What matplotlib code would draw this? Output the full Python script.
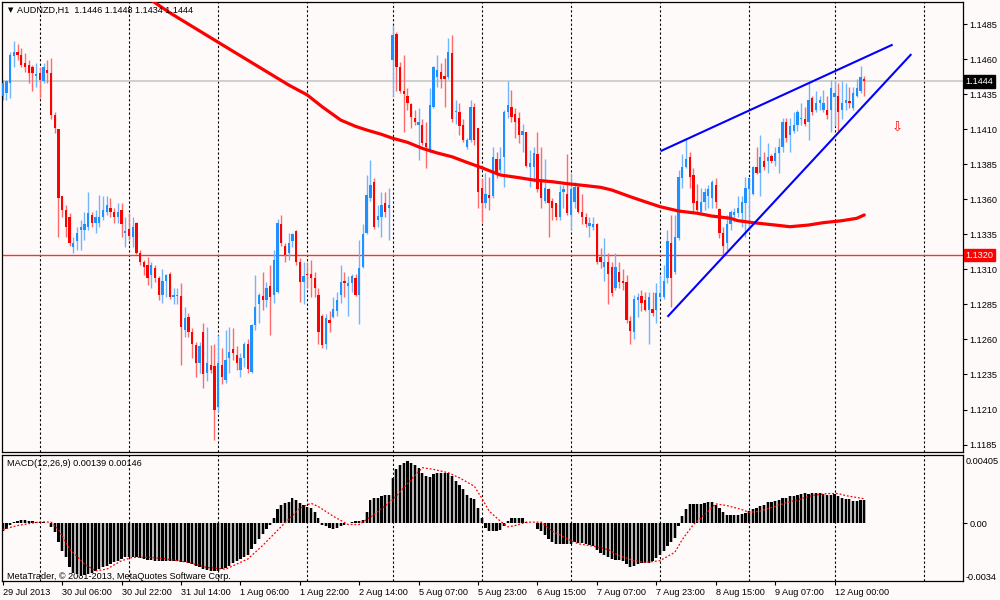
import matplotlib
matplotlib.use("Agg")
import matplotlib.pyplot as plt
import matplotlib.transforms as mtransforms
import numpy as np

BG = '#FFFAFA'
BULL = '#1E90FF'
BEAR = '#FF0000'
BULL_WICK = '#6FB6FF'
BEAR_WICK = '#FF6A6A'

# hourly AUDNZD candles, bar 0 = 29 Jul 2013 14:00
opens = [
    1.1434, 1.1436, 1.1443, 1.1462, 1.1465, 1.1463, 1.1457, 1.1456, 1.1454, 1.1448,
    1.1450, 1.1444, 1.1452, 1.1450, 1.1420, 1.1410, 1.1362, 1.1352, 1.1347, 1.1326,
    1.1330, 1.1338, 1.1338, 1.1340, 1.1349, 1.1343, 1.1343, 1.1347, 1.1351, 1.1354,
    1.1351, 1.1347, 1.1352, 1.1336, 1.1339, 1.1333, 1.1343, 1.1322, 1.1315, 1.1313,
    1.1306, 1.1311, 1.1304, 1.1292, 1.1302, 1.1307, 1.1290, 1.1291, 1.1291, 1.1267,
    1.1276, 1.1265, 1.1256, 1.1243, 1.1265, 1.1236, 1.1242, 1.1241, 1.1212, 1.1242,
    1.1231, 1.1247, 1.1253, 1.1249, 1.1238, 1.1247, 1.1257, 1.1237, 1.1270, 1.1285,
    1.1291, 1.1288, 1.1298, 1.1292, 1.1294, 1.1342, 1.1327, 1.1322, 1.1330, 1.1337,
    1.1315, 1.1301, 1.1307, 1.1307, 1.1304, 1.1292, 1.1277, 1.1257, 1.1274, 1.1276,
    1.1280, 1.1292, 1.1302, 1.1298, 1.1300, 1.1304, 1.1292, 1.1312, 1.1336, 1.1361,
    1.1372, 1.1345, 1.1347, 1.1357, 1.1354, 1.1459, 1.1478, 1.1454, 1.1437, 1.1434,
    1.1428, 1.1418, 1.1413, 1.1413, 1.1400, 1.1394, 1.1426, 1.1447, 1.1451, 1.1448,
    1.1447, 1.1464, 1.1422, 1.1422, 1.1413, 1.1397, 1.1402, 1.1426, 1.1411, 1.1368,
    1.1357, 1.1363, 1.1362, 1.1389, 1.1381, 1.1390, 1.1422, 1.1426, 1.1421, 1.1418,
    1.1406, 1.1408, 1.1383, 1.1383, 1.1392, 1.1374, 1.1359, 1.1367, 1.1359, 1.1357,
    1.1347, 1.1365, 1.1364, 1.1349, 1.1358, 1.1369, 1.1351, 1.1347, 1.1341, 1.1340,
    1.1342, 1.1319, 1.1312, 1.1315, 1.1312, 1.1297, 1.1308, 1.1302, 1.1301, 1.1273,
    1.1265, 1.1288, 1.1291, 1.1288, 1.1281, 1.1282, 1.1281, 1.1290, 1.1290, 1.1304,
    1.1329, 1.1308, 1.1332, 1.1375, 1.1383, 1.1390, 1.1377, 1.1359, 1.1351, 1.1358,
    1.1362, 1.1361, 1.1370, 1.1353, 1.1336, 1.1329, 1.1342, 1.1349, 1.1350, 1.1350,
    1.1357, 1.1367, 1.1364, 1.1383, 1.1379, 1.1387, 1.1387, 1.1391, 1.1387, 1.1393,
    1.1397, 1.1415, 1.1406, 1.1409, 1.1413, 1.1417, 1.1417, 1.1415, 1.1432, 1.1424,
    1.1429, 1.1424, 1.1424, 1.1424, 1.1433, 1.1434, 1.1424, 1.1429, 1.1430, 1.1425,
    1.1434, 1.1437, 1.1446]
highs = [
    1.1445, 1.1445, 1.1465, 1.1473, 1.1471, 1.1468, 1.1464, 1.1459, 1.1456, 1.1457,
    1.1454, 1.1457, 1.1459, 1.1461, 1.1422, 1.1410, 1.1362, 1.1356, 1.1350, 1.1333,
    1.1340, 1.1345, 1.1351, 1.1365, 1.1351, 1.1352, 1.1363, 1.1362, 1.1362, 1.1361,
    1.1354, 1.1357, 1.1357, 1.1347, 1.1350, 1.1347, 1.1344, 1.1324, 1.1317, 1.1319,
    1.1315, 1.1313, 1.1305, 1.1310, 1.1307, 1.1308, 1.1297, 1.1297, 1.1300, 1.1283,
    1.1279, 1.1268, 1.1258, 1.1258, 1.1272, 1.1269, 1.1256, 1.1257, 1.1263, 1.1254,
    1.1267, 1.1269, 1.1268, 1.1255, 1.1250, 1.1258, 1.1260, 1.1271, 1.1306, 1.1293,
    1.1308, 1.1301, 1.1313, 1.1324, 1.1346, 1.1349, 1.1329, 1.1336, 1.1336, 1.1338,
    1.1318, 1.1315, 1.1315, 1.1317, 1.1308, 1.1297, 1.1278, 1.1278, 1.1280, 1.1290,
    1.1294, 1.1313, 1.1308, 1.1305, 1.1307, 1.1307, 1.1331, 1.1342, 1.1377, 1.1388,
    1.1375, 1.1356, 1.1365, 1.1365, 1.1368, 1.1484, 1.1479, 1.1458, 1.1463, 1.1439,
    1.1429, 1.1424, 1.1425, 1.1417, 1.1415, 1.1439, 1.1455, 1.1463, 1.1457, 1.1461,
    1.1475, 1.1477, 1.1431, 1.1429, 1.1417, 1.1404, 1.1431, 1.1429, 1.1411, 1.1375,
    1.1379, 1.1376, 1.1397, 1.1394, 1.1397, 1.1424, 1.1444, 1.1438, 1.1425, 1.1422,
    1.1414, 1.1408, 1.1395, 1.1397, 1.1408, 1.1397, 1.1389, 1.1368, 1.1361, 1.1357,
    1.1370, 1.1370, 1.1392, 1.1379, 1.1372, 1.1370, 1.1364, 1.1350, 1.1347, 1.1347,
    1.1343, 1.1325, 1.1332, 1.1322, 1.1315, 1.1322, 1.1315, 1.1310, 1.1306, 1.1277,
    1.1292, 1.1293, 1.1295, 1.1294, 1.1294, 1.1294, 1.1300, 1.1306, 1.1313, 1.1338,
    1.1349, 1.1349, 1.1381, 1.1392, 1.1404, 1.1394, 1.1382, 1.1371, 1.1368, 1.1368,
    1.1370, 1.1374, 1.1375, 1.1354, 1.1340, 1.1349, 1.1352, 1.1354, 1.1362, 1.1362,
    1.1376, 1.1376, 1.1384, 1.1397, 1.1406, 1.1394, 1.1400, 1.1392, 1.1397, 1.1404,
    1.1418, 1.1418, 1.1418, 1.1422, 1.1424, 1.1429, 1.1426, 1.1443, 1.1434, 1.1437,
    1.1434, 1.1438, 1.1434, 1.1445, 1.1444, 1.1443, 1.1444, 1.1443, 1.1440, 1.1440,
    1.1446, 1.1455, 1.1448]
lows = [
    1.1431, 1.1431, 1.1432, 1.1454, 1.1459, 1.1454, 1.1451, 1.1443, 1.1437, 1.1440,
    1.1432, 1.1443, 1.1443, 1.1417, 1.1407, 1.1333, 1.1347, 1.1333, 1.1327, 1.1322,
    1.1324, 1.1324, 1.1331, 1.1338, 1.1340, 1.1336, 1.1340, 1.1345, 1.1349, 1.1347,
    1.1343, 1.1343, 1.1333, 1.1326, 1.1331, 1.1326, 1.1321, 1.1313, 1.1306, 1.1299,
    1.1297, 1.1301, 1.1288, 1.1286, 1.1290, 1.1289, 1.1285, 1.1285, 1.1242, 1.1262,
    1.1262, 1.1247, 1.1233, 1.1236, 1.1225, 1.1230, 1.1236, 1.1188, 1.1208, 1.1228,
    1.1229, 1.1236, 1.1245, 1.1238, 1.1233, 1.1240, 1.1236, 1.1236, 1.1267, 1.1272,
    1.1281, 1.1283, 1.1263, 1.1286, 1.1293, 1.1327, 1.1315, 1.1317, 1.1326, 1.1313,
    1.1287, 1.1285, 1.1297, 1.1290, 1.1290, 1.1257, 1.1254, 1.1253, 1.1265, 1.1275,
    1.1277, 1.1286, 1.1290, 1.1277, 1.1294, 1.1291, 1.1271, 1.1311, 1.1335, 1.1359,
    1.1339, 1.1340, 1.1333, 1.1347, 1.1331, 1.1433, 1.1437, 1.1436, 1.1408, 1.1424,
    1.1411, 1.1413, 1.1388, 1.1399, 1.1382, 1.1393, 1.1425, 1.1440, 1.1439, 1.1426,
    1.1446, 1.1415, 1.1414, 1.1406, 1.1401, 1.1396, 1.1401, 1.1399, 1.1354, 1.1344,
    1.1354, 1.1352, 1.1361, 1.1375, 1.1379, 1.1369, 1.1418, 1.1415, 1.1404, 1.1400,
    1.1394, 1.1383, 1.1369, 1.1372, 1.1365, 1.1354, 1.1357, 1.1333, 1.1345, 1.1345,
    1.1345, 1.1354, 1.1349, 1.1338, 1.1354, 1.1350, 1.1342, 1.1340, 1.1333, 1.1338,
    1.1314, 1.1311, 1.1302, 1.1285, 1.1291, 1.1295, 1.1297, 1.1295, 1.1272, 1.1257,
    1.1260, 1.1276, 1.1280, 1.1280, 1.1257, 1.1277, 1.1272, 1.1289, 1.1289, 1.1300,
    1.1283, 1.1307, 1.1331, 1.1368, 1.1382, 1.1368, 1.1351, 1.1350, 1.1350, 1.1352,
    1.1354, 1.1354, 1.1354, 1.1332, 1.1320, 1.1324, 1.1338, 1.1344, 1.1347, 1.1340,
    1.1333, 1.1338, 1.1363, 1.1378, 1.1362, 1.1381, 1.1379, 1.1386, 1.1384, 1.1379,
    1.1394, 1.1401, 1.1394, 1.1407, 1.1409, 1.1413, 1.1412, 1.1402, 1.1420, 1.1422,
    1.1424, 1.1422, 1.1417, 1.1408, 1.1412, 1.1409, 1.1417, 1.1424, 1.1425, 1.1424,
    1.1433, 1.1436, 1.1434]
closes = [
    1.1443, 1.1444, 1.1463, 1.1465, 1.1463, 1.1456, 1.1454, 1.1450, 1.1450, 1.1449,
    1.1445, 1.1454, 1.1450, 1.1420, 1.1411, 1.1361, 1.1352, 1.1340, 1.1329, 1.1329,
    1.1336, 1.1340, 1.1342, 1.1350, 1.1343, 1.1347, 1.1347, 1.1352, 1.1356, 1.1351,
    1.1347, 1.1351, 1.1342, 1.1337, 1.1334, 1.1340, 1.1322, 1.1315, 1.1312, 1.1304,
    1.1313, 1.1304, 1.1292, 1.1302, 1.1306, 1.1290, 1.1292, 1.1292, 1.1269, 1.1275,
    1.1265, 1.1257, 1.1243, 1.1255, 1.1235, 1.1243, 1.1238, 1.1210, 1.1243, 1.1233,
    1.1245, 1.1251, 1.1250, 1.1243, 1.1247, 1.1257, 1.1239, 1.1270, 1.1283, 1.1292,
    1.1288, 1.1297, 1.1290, 1.1317, 1.1343, 1.1329, 1.1320, 1.1329, 1.1335, 1.1315,
    1.1301, 1.1305, 1.1306, 1.1304, 1.1297, 1.1265, 1.1256, 1.1275, 1.1272, 1.1282,
    1.1288, 1.1301, 1.1300, 1.1300, 1.1305, 1.1292, 1.1311, 1.1335, 1.1363, 1.1370,
    1.1340, 1.1348, 1.1356, 1.1351, 1.1356, 1.1477, 1.1454, 1.1437, 1.1435, 1.1429,
    1.1419, 1.1415, 1.1415, 1.1400, 1.1397, 1.1427, 1.1454, 1.1452, 1.1446, 1.1446,
    1.1465, 1.1417, 1.1423, 1.1412, 1.1402, 1.1402, 1.1426, 1.1402, 1.1365, 1.1357,
    1.1364, 1.1361, 1.1390, 1.1379, 1.1389, 1.1422, 1.1427, 1.1419, 1.1415, 1.1406,
    1.1409, 1.1384, 1.1386, 1.1393, 1.1367, 1.1361, 1.1368, 1.1357, 1.1354, 1.1347,
    1.1365, 1.1367, 1.1350, 1.1367, 1.1369, 1.1351, 1.1347, 1.1342, 1.1343, 1.1342,
    1.1315, 1.1315, 1.1315, 1.1307, 1.1293, 1.1312, 1.1301, 1.1300, 1.1274, 1.1266,
    1.1289, 1.1290, 1.1286, 1.1281, 1.1290, 1.1279, 1.1293, 1.1293, 1.1302, 1.1330,
    1.1304, 1.1333, 1.1376, 1.1383, 1.1389, 1.1376, 1.1357, 1.1352, 1.1358, 1.1365,
    1.1367, 1.1372, 1.1358, 1.1336, 1.1327, 1.1342, 1.1351, 1.1351, 1.1354, 1.1358,
    1.1368, 1.1375, 1.1383, 1.1379, 1.1390, 1.1383, 1.1390, 1.1387, 1.1393, 1.1397,
    1.1415, 1.1404, 1.1412, 1.1413, 1.1422, 1.1418, 1.1414, 1.1431, 1.1422, 1.1429,
    1.1431, 1.1429, 1.1420, 1.1439, 1.1436, 1.1422, 1.1429, 1.1431, 1.1429, 1.1436,
    1.1439, 1.1447, 1.1444]

# moving average (thick red line), read at a few bars
ma_bars = [40, 45, 58, 77, 82, 86, 91, 95, 98, 102, 105, 109, 113, 117, 121, 125,
           129, 134, 139, 143, 148, 152, 157, 161, 164, 169, 173, 177, 182, 187,
           191, 196, 198, 202, 208, 212, 217, 221, 226, 230, 232]
ma_vals = [1.15020, 1.14930, 1.14720, 1.14415, 1.14344, 1.14260, 1.14165, 1.14120,
           1.14094, 1.14063, 1.14035, 1.14006, 1.13963, 1.13930, 1.13903, 1.13863,
           1.13825, 1.13773, 1.13754, 1.13737, 1.13725, 1.13711, 1.13697, 1.13685,
           1.13666, 1.13618, 1.13582, 1.13547, 1.13516, 1.13500, 1.13480, 1.13464,
           1.13447, 1.13433, 1.13416, 1.13404, 1.13416, 1.13433, 1.13447, 1.13464,
           1.13488]

# MACD(12,26,9) histogram, one value per bar
macd_hist = [
    -0.00045, -0.00035, -0.00006, 0.00010, 0.00016, 0.00020, 0.00020, 0.00016, 0.00014, 0.00010,
    0.00008, 0.00008, 0.00004, -0.00020, -0.00050, -0.00110, -0.00160, -0.00200, -0.00260, -0.00290,
    -0.00300, -0.00310, -0.00302, -0.00298, -0.00290, -0.00280, -0.00270, -0.00260, -0.00250, -0.00240,
    -0.00230, -0.00220, -0.00210, -0.00200, -0.00198, -0.00196, -0.00200, -0.00205, -0.00210, -0.00215,
    -0.00218, -0.00220, -0.00222, -0.00224, -0.00222, -0.00220, -0.00220, -0.00222, -0.00226, -0.00230,
    -0.00232, -0.00238, -0.00250, -0.00260, -0.00270, -0.00276, -0.00278, -0.00282, -0.00278, -0.00270,
    -0.00262, -0.00250, -0.00232, -0.00220, -0.00210, -0.00200, -0.00188, -0.00150, -0.00120, -0.00090,
    -0.00065, -0.00035, -0.00010, 0.00033, 0.00087, 0.00110, 0.00120, 0.00130, 0.00148, 0.00140,
    0.00120, 0.00110, 0.00100, 0.00090, 0.00070, 0.00033, -0.00006, -0.00016, -0.00026, -0.00030,
    -0.00026, -0.00016, -0.00006, 0.00004, 0.00008, 0.00014, 0.00014, 0.00020, 0.00070, 0.00140,
    0.00150, 0.00152, 0.00160, 0.00168, 0.00168, 0.00270, 0.00320, 0.00348, 0.00360, 0.00368,
    0.00360, 0.00348, 0.00330, 0.00300, 0.00278, 0.00272, 0.00290, 0.00296, 0.00296, 0.00296,
    0.00296, 0.00280, 0.00250, 0.00230, 0.00205, 0.00170, 0.00148, 0.00142, 0.00090, 0.00030,
    -0.00026, -0.00045, -0.00045, -0.00045, -0.00040, -0.00016, 0.00014, 0.00030, 0.00033, 0.00033,
    0.00033, 0.00008, 0.00004, 0.00000, -0.00030, -0.00045, -0.00070, -0.00090, -0.00110, -0.00124,
    -0.00124, -0.00120, -0.00124, -0.00124, -0.00110, -0.00114, -0.00118, -0.00124, -0.00130, -0.00134,
    -0.00154, -0.00173, -0.00189, -0.00197, -0.00209, -0.00213, -0.00213, -0.00223, -0.00242, -0.00256,
    -0.00252, -0.00242, -0.00236, -0.00236, -0.00232, -0.00223, -0.00203, -0.00189, -0.00164, -0.00134,
    -0.00110, -0.00085, -0.00012, 0.00043, 0.00087, 0.00118, 0.00118, 0.00118, 0.00118, 0.00122,
    0.00126, 0.00126, 0.00112, 0.00093, 0.00067, 0.00053, 0.00053, 0.00053, 0.00053, 0.00059,
    0.00063, 0.00073, 0.00087, 0.00093, 0.00102, 0.00112, 0.00126, 0.00126, 0.00132, 0.00138,
    0.00152, 0.00152, 0.00162, 0.00165, 0.00171, 0.00177, 0.00181, 0.00177, 0.00181, 0.00181,
    0.00181, 0.00177, 0.00171, 0.00171, 0.00177, 0.00162, 0.00152, 0.00146, 0.00142, 0.00132,
    0.00132, 0.00136, 0.00139]

# signal line (red dotted), read at a few bars
sig_bars = [0, 4, 10, 13, 15, 18, 22, 25, 28, 32, 35, 40, 44, 50, 55, 60, 66, 70,
            76, 80, 83, 85, 89, 93, 96, 100, 105, 110, 113, 116, 120, 123, 127, 129,
            131, 134, 136, 138, 141, 145, 148, 152, 155, 159, 163, 166, 170, 173,
            177, 181, 183, 186, 190, 192, 195, 199, 201, 204, 208, 211, 215, 218,
            222, 225, 227, 232]
sig_vals = [-0.00035, -0.00012, 0.00010, 0.00008, -0.00035, -0.00150, -0.00240,
            -0.00280, -0.00270, -0.00220, -0.00200, -0.00200, -0.00210, -0.00230,
            -0.00260, -0.00270, -0.00210, -0.00130, 0.00004, 0.00090, 0.00120,
            0.00100, 0.00043, -0.00006, -0.00006, 0.00053, 0.00140, 0.00260,
            0.00330, 0.00320, 0.00300, 0.00270, 0.00220, 0.00150, 0.00073, 0.00014,
            -0.00020, -0.00012, 0.00008, 0.00008, -0.00045, -0.00090, -0.00120,
            -0.00134, -0.00154, -0.00190, -0.00220, -0.00230, -0.00220, -0.00170,
            -0.00095, -0.00006, 0.00073, 0.00116, 0.00106, 0.00083, 0.00065,
            0.00073, 0.00102, 0.00122, 0.00146, 0.00165, 0.00177, 0.00177,
            0.00165, 0.00146]

# hand-drawn channel lines: (bar, price) end points
upper_line = [(177.4, 1.13946), (239.4, 1.1470)]
lower_line = [(179.2, 1.12767), (244.5, 1.1463)]
arrow_pos = (240.8, 1.1411)

bid_price = 1.1444
level_price = 1.1320

day_bars = [10, 34, 58, 82, 105, 129, 153, 177, 201, 224, 248]
label_bars = [0, 16, 32, 48, 64, 80, 96, 112, 128, 144, 160, 176, 192, 208, 224]
time_labels = ['29 Jul 2013', '30 Jul 06:00', '30 Jul 22:00', '31 Jul 14:00',
               '1 Aug 06:00', '1 Aug 22:00', '2 Aug 14:00', '5 Aug 07:00',
               '5 Aug 23:00', '6 Aug 15:00', '7 Aug 07:00', '7 Aug 23:00',
               '8 Aug 15:00', '9 Aug 07:00', '12 Aug 00:00']
price_ticks = [1.1185, 1.1210, 1.1235, 1.1260, 1.1285, 1.1310, 1.1335, 1.1360,
               1.1385, 1.1410, 1.1435, 1.1460, 1.1485]

FONT = 'Liberation Sans'
FS = 6.6

o = np.array(opens)
h = np.array(highs)
l = np.array(lows)
c = np.array(closes)
idx = np.arange(len(o))
up = c >= o

fig = plt.figure(figsize=(10, 6), dpi=100, facecolor=BG)
ax = fig.add_axes([0.002, 1 - 452 / 600, 0.961, 450 / 600], facecolor=BG)
ax2 = fig.add_axes([0.002, 1 - 581 / 600, 0.961, 126 / 600], facecolor=BG)

xlim = (-0.2, 258.6)
for a in (ax, ax2):
    a.set_xlim(*xlim)
    for s in a.spines.values():
        s.set_color('black')
        s.set_linewidth(0.9)
    for d in day_bars:
        a.axvline(d, color='black', lw=0.8, ls=(0, (2, 2)), zorder=1)

# --- price panel ---
ax.set_ylim(1.11797, 1.15007)
ax.axhline(bid_price, color='#C8C8C8', lw=1.2, zorder=1.5)
ax.axhline(level_price, color='#FF3030', lw=1.0, zorder=1.5)

wick_cols = np.where(up, BULL_WICK, BEAR_WICK)
body_cols = np.where(up, BULL, BEAR)
ax.vlines(idx, l, h, colors=wick_cols, lw=1.0, zorder=2.5)
body_bot = np.minimum(o, c)
body_h = np.maximum(np.abs(c - o), 0.00007)
ax.bar(idx, body_h, bottom=body_bot, width=0.62, color=body_cols, lw=0, zorder=3)

ax.plot(ma_bars, ma_vals, color='#FF0000', lw=2.3, zorder=4,
        solid_capstyle='round', solid_joinstyle='round')
for ln in (upper_line, lower_line):
    xs, ys = zip(*ln)
    ax.plot(xs, ys, color='#0000FF', lw=1.5, zorder=5)
ax.text(arrow_pos[0], arrow_pos[1], '\u21e9', color='red', fontsize=9.5,
        ha='center', va='center', family='DejaVu Sans', zorder=5)

ax.yaxis.tick_right()
ax.set_yticks(price_ticks)
ax.set_yticklabels(['%.4f' % p for p in price_ticks], fontsize=FS, family=FONT)
ax.tick_params(axis='y', length=3, width=0.8, pad=1.5, colors='black')
ax.tick_params(axis='x', bottom=False, labelbottom=False)

tr = mtransforms.blended_transform_factory(ax.transAxes, ax.transData)
ax.text(1.0025, bid_price, '%.4f' % bid_price, transform=tr, fontsize=FS,
        family=FONT, color='white', va='center', ha='left', zorder=6,
        bbox=dict(boxstyle='square,pad=0.18', fc='black', ec='black'))
ax.text(1.0025, level_price, '%.4f' % level_price, transform=tr, fontsize=FS,
        family=FONT, color='white', va='center', ha='left', zorder=6,
        bbox=dict(boxstyle='square,pad=0.18', fc='#FF0000', ec='#FF0000'))

fig.text(0.008, 1 - 10 / 600, '\u25bc', fontsize=5, va='center', family='DejaVu Sans')
fig.text(0.017, 1 - 10 / 600, 'AUDNZD,H1  1.1446 1.1448 1.1434 1.1444',
         fontsize=FS, va='center', family=FONT)

# --- MACD panel ---
ax2.set_ylim(-0.0034, 0.00405)
hist = np.array(macd_hist)
ax2.bar(idx, hist, width=1.0, color='#B4B4B4', lw=0, zorder=2)
ax2.bar(idx, hist, width=0.6, color='black', lw=0, zorder=2.5)
ax2.plot(sig_bars, sig_vals, color='#FF0000', lw=0.9, ls=(0, (1.5, 1.5)), zorder=3)

ax2.yaxis.tick_right()
ax2.set_yticks([0.0])
ax2.set_yticklabels(['0.00'], fontsize=FS, family=FONT)
ax2.tick_params(axis='y', length=3, width=0.8, pad=1.5)
ax2.text(1.003, 0.95, '0.00405', transform=ax2.transAxes, fontsize=FS,
         family=FONT, va='center', ha='left')
ax2.text(1.003, 0.03, '-0.0034', transform=ax2.transAxes, fontsize=FS,
         family=FONT, va='center', ha='left')

ax2.set_xticks(label_bars)
ax2.set_xticklabels(time_labels, fontsize=FS, family=FONT)
for lbl in ax2.get_xticklabels():
    lbl.set_ha('left')
ax2.tick_params(axis='x', length=3, width=0.8, pad=2)

ax2.text(0.005, 0.93, 'MACD(12,26,9) 0.00139 0.00146', transform=ax2.transAxes,
         fontsize=FS, family=FONT, va='center', zorder=1)
ax2.text(0.005, 0.035, 'MetaTrader, \u00a9 2001-2013, MetaQuotes Software Corp.',
         transform=ax2.transAxes, fontsize=FS, family=FONT, va='center', zorder=1)

fig.savefig('out.png', dpi=100, facecolor=BG)
